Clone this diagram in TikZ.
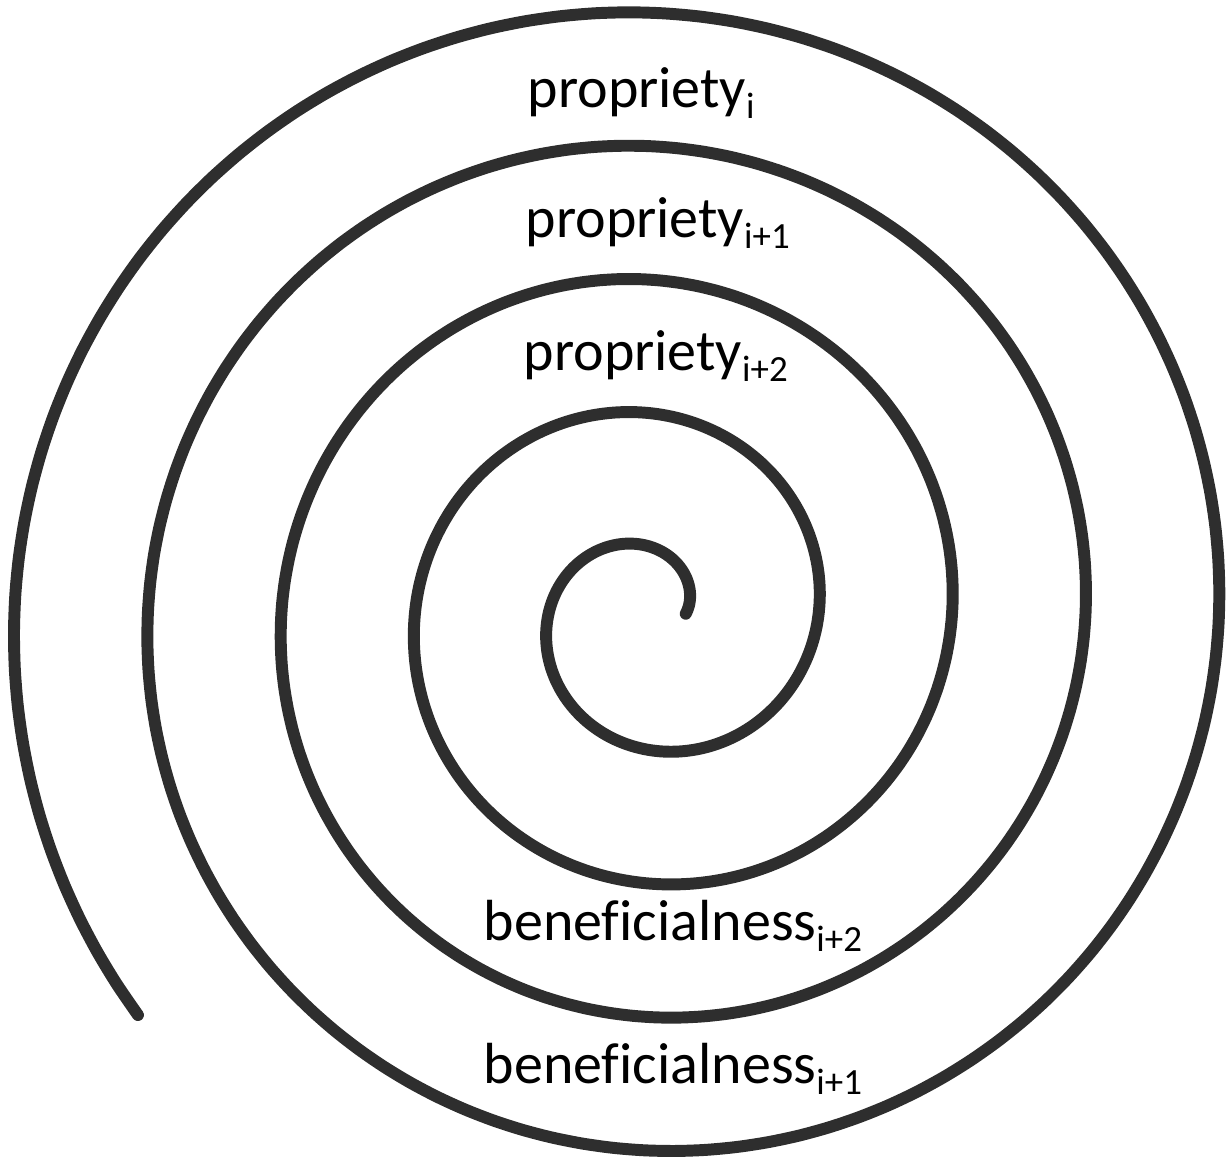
\documentclass[tikz,border=0pt]{standalone}
\usepackage{fontspec}
\setmainfont{Carlito}[RawFeature={-liga}]
\usepackage{tikz}
\usetikzlibrary{positioning}

\newcommand{\idx}[1]{\raisebox{-0.2em}{\fontsize{10.5}{12}\selectfont #1}}

\begin{document}
\begin{tikzpicture}[x=0.1mm, y=-0.1mm,
    spiral line/.style={line width=3.4pt, black!82, line cap=round, line join=round},
    turn label/.style={anchor=base west, inner sep=0pt, font=\fontsize{16.5}{20}\selectfont}]
        \useasboundingbox (0,0) rectangle (1230,1167);

        % Spirale: r = 35 + 0.3708*theta, Mittelpunkt (650,615)
        \draw[spiral line, samples=500, domain=2:1658, smooth, variable=\t]
            plot ({650 + (35 + 0.3708*\t)*cos(\t)}, {615 - (35 + 0.3708*\t)*sin(\t)});

        % obere Beschriftungen
        \node[turn label] (prop0) at (527,107) {propriety\idx{i}};
        \node[turn label] (prop1) at (525,237) {propriety\idx{i+1}};
        \node[turn label] (prop2) at (523,370) {propriety\idx{i+2}};

        % untere Beschriftungen
        \node[turn label] (bene2) at (483,940) {benef\kern0pt icialness\idx{i+2}};
        \node[turn label] (bene1) at (483,1083) {benef\kern0pt icialness\idx{i+1}};
    \end{tikzpicture}
\end{document}
